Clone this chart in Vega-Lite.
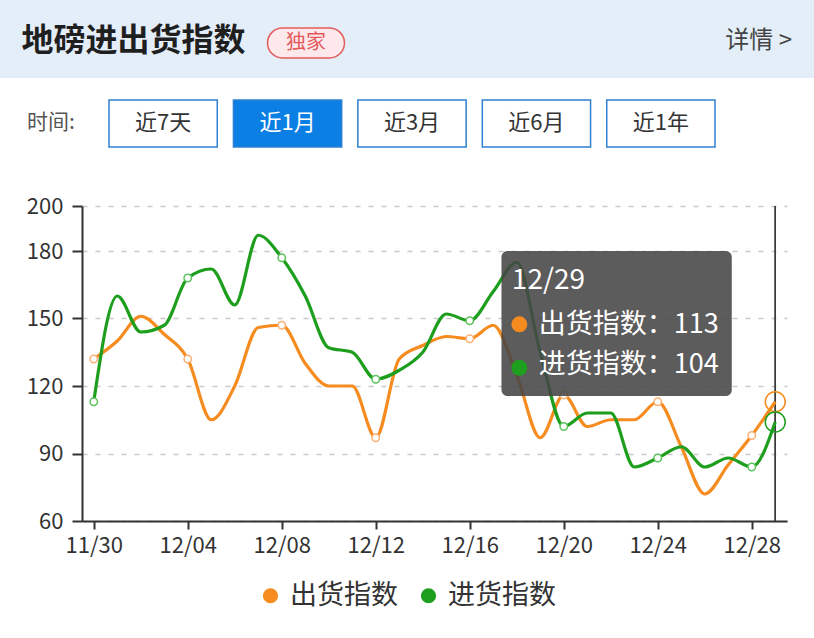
{
  "$schema": "https://vega.github.io/schema/vega-lite/v6.json",
  "padding": {"left": 0, "top": 0, "right": 0, "bottom": 30},
  "spacing": 0,
  "background": "#ffffff",
  "config": {
    "font": "Noto Sans CJK SC",
    "view": {"stroke": null},
    "concat": {"spacing": 0}
  },
  "datasets": {
    "index": [
      {"date": "2023-11-30T00:00", "series": "出货指数", "value": 132},
      {"date": "2023-12-01T00:00", "series": "出货指数", "value": 140},
      {"date": "2023-12-02T00:00", "series": "出货指数", "value": 151},
      {"date": "2023-12-03T00:00", "series": "出货指数", "value": 143},
      {"date": "2023-12-04T00:00", "series": "出货指数", "value": 132},
      {"date": "2023-12-05T00:00", "series": "出货指数", "value": 105},
      {"date": "2023-12-06T00:00", "series": "出货指数", "value": 120},
      {"date": "2023-12-07T00:00", "series": "出货指数", "value": 146},
      {"date": "2023-12-08T00:00", "series": "出货指数", "value": 147},
      {"date": "2023-12-09T00:00", "series": "出货指数", "value": 130},
      {"date": "2023-12-10T00:00", "series": "出货指数", "value": 120},
      {"date": "2023-12-11T00:00", "series": "出货指数", "value": 120},
      {"date": "2023-12-12T00:00", "series": "出货指数", "value": 97},
      {"date": "2023-12-13T00:00", "series": "出货指数", "value": 132},
      {"date": "2023-12-14T00:00", "series": "出货指数", "value": 138},
      {"date": "2023-12-15T00:00", "series": "出货指数", "value": 142},
      {"date": "2023-12-16T00:00", "series": "出货指数", "value": 141},
      {"date": "2023-12-17T00:00", "series": "出货指数", "value": 147},
      {"date": "2023-12-18T00:00", "series": "出货指数", "value": 125},
      {"date": "2023-12-19T00:00", "series": "出货指数", "value": 97},
      {"date": "2023-12-20T00:00", "series": "出货指数", "value": 116},
      {"date": "2023-12-21T00:00", "series": "出货指数", "value": 102},
      {"date": "2023-12-22T00:00", "series": "出货指数", "value": 105},
      {"date": "2023-12-23T00:00", "series": "出货指数", "value": 105},
      {"date": "2023-12-24T00:00", "series": "出货指数", "value": 113},
      {"date": "2023-12-25T00:00", "series": "出货指数", "value": 93},
      {"date": "2023-12-26T00:00", "series": "出货指数", "value": 72},
      {"date": "2023-12-27T00:00", "series": "出货指数", "value": 85},
      {"date": "2023-12-28T00:00", "series": "出货指数", "value": 98},
      {"date": "2023-12-29T00:00", "series": "出货指数", "value": 113},
      {"date": "2023-11-30T00:00", "series": "进货指数", "value": 113},
      {"date": "2023-12-01T00:00", "series": "进货指数", "value": 160},
      {"date": "2023-12-02T00:00", "series": "进货指数", "value": 144},
      {"date": "2023-12-03T00:00", "series": "进货指数", "value": 147},
      {"date": "2023-12-04T00:00", "series": "进货指数", "value": 168},
      {"date": "2023-12-05T00:00", "series": "进货指数", "value": 172},
      {"date": "2023-12-06T00:00", "series": "进货指数", "value": 156},
      {"date": "2023-12-07T00:00", "series": "进货指数", "value": 187},
      {"date": "2023-12-08T00:00", "series": "进货指数", "value": 177},
      {"date": "2023-12-09T00:00", "series": "进货指数", "value": 160},
      {"date": "2023-12-10T00:00", "series": "进货指数", "value": 137},
      {"date": "2023-12-11T00:00", "series": "进货指数", "value": 135},
      {"date": "2023-12-12T00:00", "series": "进货指数", "value": 123},
      {"date": "2023-12-13T00:00", "series": "进货指数", "value": 127},
      {"date": "2023-12-14T00:00", "series": "进货指数", "value": 135},
      {"date": "2023-12-15T00:00", "series": "进货指数", "value": 152},
      {"date": "2023-12-16T00:00", "series": "进货指数", "value": 149},
      {"date": "2023-12-17T00:00", "series": "进货指数", "value": 162},
      {"date": "2023-12-18T00:00", "series": "进货指数", "value": 175},
      {"date": "2023-12-19T00:00", "series": "进货指数", "value": 135},
      {"date": "2023-12-20T00:00", "series": "进货指数", "value": 102},
      {"date": "2023-12-21T00:00", "series": "进货指数", "value": 108},
      {"date": "2023-12-22T00:00", "series": "进货指数", "value": 108},
      {"date": "2023-12-23T00:00", "series": "进货指数", "value": 84},
      {"date": "2023-12-24T00:00", "series": "进货指数", "value": 88},
      {"date": "2023-12-25T00:00", "series": "进货指数", "value": 93},
      {"date": "2023-12-26T00:00", "series": "进货指数", "value": 84},
      {"date": "2023-12-27T00:00", "series": "进货指数", "value": 88},
      {"date": "2023-12-28T00:00", "series": "进货指数", "value": 84},
      {"date": "2023-12-29T00:00", "series": "进货指数", "value": 104}
    ]
  },
  "vconcat": [
    {
      "spacing": 0,
      "hconcat": [
        {
          "width": 265, "height": 78,
          "view": {"fill": "#e4eef9", "stroke": null},
          "data": {"values": [{"t": "地磅进出货指数"}]},
          "mark": {"type": "text", "fontSize": 32, "fontWeight": "bold", "color": "#1f1f1f", "dx": 1},
          "encoding": {
            "text": {"field": "t"},
            "y": {"datum": "h", "type": "nominal", "scale": {"type": "band", "paddingInner": 0, "paddingOuter": 0.8, "align": 0.55}, "axis": null}
          }
        },
        {
          "width": 82, "height": 78,
          "view": {"fill": "#e4eef9", "stroke": null},
          "data": {"values": [{"t": "独家"}]},
          "encoding": {
            "x": {"datum": "b", "type": "nominal", "scale": {"type": "band", "paddingInner": 0, "paddingOuter": 0.033}, "axis": null},
            "y": {"datum": "h", "type": "nominal", "scale": {"type": "band", "paddingInner": 0, "paddingOuter": 0.8, "align": 0.583}, "axis": null}
          },
          "layer": [
            {"mark": {"type": "bar", "cornerRadius": 15, "fill": "#fde9eb", "stroke": "#e35b5b", "strokeWidth": 1.5}},
            {"mark": {"type": "text", "fontSize": 20, "color": "#e4585c"}, "encoding": {"text": {"field": "t"}}}
          ]
        },
        {
          "width": 467, "height": 78,
          "view": {"fill": "#e4eef9", "stroke": null},
          "data": {"values": [{"t": "详情 >"}]},
          "mark": {"type": "text", "fontSize": 24, "color": "#444444", "align": "right", "dx": -22},
          "encoding": {
            "text": {"field": "t"},
            "x": {"value": "width"},
            "y": {"datum": "h", "type": "nominal", "scale": {"type": "band", "paddingInner": 0, "paddingOuter": 0.8, "align": 0.55}, "axis": null}
          }
        }
      ]
    },
    {
      "spacing": 0,
      "hconcat": [
        {
          "width": 108, "height": 117,
          "view": {"fill": "#ffffff", "stroke": null},
          "data": {"values": [{"t": "时间:"}]},
          "mark": {"type": "text", "fontSize": 21, "color": "#555555", "dx": -3},
          "encoding": {
            "text": {"field": "t"},
            "y": {"datum": "b", "type": "nominal", "scale": {"type": "band", "paddingInner": 0, "paddingOuter": 0.745, "align": 0.314}, "axis": null}
          }
        },
        {
          "width": 606, "height": 117,
          "data": {"values": [{"label": "近7天"}, {"label": "近1月"}, {"label": "近3月"}, {"label": "近6月"}, {"label": "近1年"}]},
          "encoding": {
            "x": {"field": "label", "type": "nominal", "sort": null, "scale": {"paddingInner": 0.13, "paddingOuter": 0}, "axis": null},
            "y": {"datum": "b", "type": "nominal", "scale": {"type": "band", "paddingInner": 0, "paddingOuter": 0.745, "align": 0.314}, "axis": null}
          },
          "layer": [
            {
              "mark": {"type": "bar", "stroke": "#2f7fd3", "strokeWidth": 1.5},
              "encoding": {"fill": {"condition": {"test": "datum.label === '近1月'", "value": "#0b7fe4"}, "value": "#ffffff"}}
            },
            {
              "mark": {"type": "text", "fontSize": 22},
              "encoding": {
                "text": {"field": "label"},
                "color": {"condition": {"test": "datum.label === '近1月'", "value": "#ffffff"}, "value": "#333333"}
              }
            }
          ]
        }
      ]
    },
    {
      "spacing": 0,
      "hconcat": [
        {
          "width": 26, "height": 10,
          "view": {"fill": "#ffffff", "stroke": null},
          "data": {"values": [{"k": 0}]},
          "mark": {"type": "text"},
          "encoding": {"text": {"value": ""}}
        },
        {
          "width": 705, "height": 315,
          "data": {"name": "index", "format": {"parse": {"date": "date"}}},
          "layer": [
            {
              "transform": [{"filter": "timeFormat(datum.date, '%m/%d') == '12/29'"}],
              "mark": {"type": "rule", "color": "#3a3a3a", "strokeWidth": 1.5},
              "encoding": {
                "x": {"field": "date", "type": "temporal"}
              }
            },
            {
              "mark": {"type": "line", "interpolate": "monotone", "strokeWidth": 3.2},
              "encoding": {
                "x": {
                  "field": "date", "type": "temporal",
                  "scale": {"domain": [{"year": 2023, "month": 11, "date": 29, "hours": 12}, {"year": 2023, "month": 12, "date": 29, "hours": 12}]},
                  "axis": {
                    "title": null, "format": "%m/%d", "grid": false,
                    "values": [
                      {"year": 2023, "month": 11, "date": 30}, {"year": 2023, "month": 12, "date": 4},
                      {"year": 2023, "month": 12, "date": 8}, {"year": 2023, "month": 12, "date": 12},
                      {"year": 2023, "month": 12, "date": 16}, {"year": 2023, "month": 12, "date": 20},
                      {"year": 2023, "month": 12, "date": 24}, {"year": 2023, "month": 12, "date": 28}
                    ],
                    "domainColor": "#333333", "domainWidth": 2, "tickColor": "#333333", "tickWidth": 2, "tickSize": 8,
                    "labelFontSize": 22, "labelColor": "#333333", "labelPadding": 6, "labelFlush": false, "labelOverlap": false
                  }
                },
                "y": {
                  "field": "value", "type": "quantitative",
                  "scale": {"domain": [60, 200], "nice": false, "zero": false},
                  "axis": {
                    "title": null, "values": [60, 90, 120, 150, 180, 200],
                    "domainColor": "#333333", "domainWidth": 2, "tickColor": "#333333", "tickWidth": 2, "tickSize": 10,
                    "labelFontSize": 22, "labelColor": "#333333", "labelPadding": 9,
                    "grid": true, "gridColor": "#c9c9c9", "gridDash": [5, 8], "gridWidth": 1.5
                  }
                },
                "color": {
                  "field": "series", "type": "nominal",
                  "scale": {"domain": ["出货指数", "进货指数"], "range": ["#f68b1f", "#1d9e1d"]},
                  "legend": {
                    "title": null, "orient": "none", "legendX": 257, "legendY": 582, "direction": "horizontal",
                    "symbolType": "circle", "symbolSize": 230,
                    "labelFontSize": 27, "labelColor": "#333333", "columnPadding": 17, "labelOffset": 6,
                    "encode": {"symbols": {"update": {"fill": {"scale": "color", "field": "value"}, "strokeWidth": {"value": 0}}}}
                  }
                }
              }
            },
            {
              "transform": [{"filter": "indexof(['11/30','12/04','12/08','12/12','12/16','12/20','12/24','12/28'], timeFormat(datum.date, '%m/%d')) >= 0"}],
              "mark": {"type": "point", "shape": "circle", "filled": true, "fill": "#ffffff", "size": 55, "strokeWidth": 1.5, "opacity": 1},
              "encoding": {
                "x": {"field": "date", "type": "temporal"},
                "y": {"field": "value", "type": "quantitative"},
                "stroke": {"field": "series", "type": "nominal", "scale": {"domain": ["出货指数", "进货指数"], "range": ["#f9b074", "#5cc25c"]}, "legend": null}
              }
            },
            {
              "transform": [{"filter": "timeFormat(datum.date, '%m/%d') == '12/29'"}],
              "mark": {"type": "point", "shape": "circle", "filled": false, "size": 400, "strokeWidth": 1.5, "opacity": 1},
              "encoding": {
                "x": {"field": "date", "type": "temporal"},
                "y": {"field": "value", "type": "quantitative"},
                "color": {"field": "series", "type": "nominal"}
              }
            },
            {
              "data": {"values": [{"k": 0}]},
              "mark": {"type": "rect", "fill": "#464646", "opacity": 0.88, "cornerRadius": 6},
              "encoding": {
                "x": {"datum": {"year": 2023, "month": 12, "date": 17, "hours": 8, "minutes": 24}, "type": "temporal"},
                "x2": {"datum": {"year": 2023, "month": 12, "date": 27, "hours": 3, "minutes": 36}},
                "y": {"datum": 180, "type": "quantitative"},
                "y2": {"datum": 115.6}
              }
            },
            {
              "data": {"values": [{"k": 0}]},
              "mark": {"type": "text", "align": "left", "baseline": "middle", "fontSize": 28, "color": "#ffffff"},
              "encoding": {
                "x": {"datum": {"year": 2023, "month": 12, "date": 17, "hours": 19}, "type": "temporal"},
                "y": {"datum": 166.7, "type": "quantitative"},
                "text": {"value": "12/29"}
              }
            },
            {
              "data": {"values": [{"s": "出货指数", "v": 147.4}, {"s": "进货指数", "v": 128.1}]},
              "mark": {"type": "point", "shape": "circle", "filled": true, "size": 255, "opacity": 1},
              "encoding": {
                "x": {"datum": {"year": 2023, "month": 12, "date": 18, "hours": 2, "minutes": 40}, "type": "temporal"},
                "y": {"field": "v", "type": "quantitative"},
                "color": {"field": "s", "type": "nominal"}
              }
            },
            {
              "data": {"values": [{"v": 147.1, "label": "出货指数：113"}, {"v": 129.3, "label": "进货指数：104"}]},
              "mark": {"type": "text", "align": "left", "baseline": "middle", "fontSize": 27, "color": "#ffffff"},
              "encoding": {
                "x": {"datum": {"year": 2023, "month": 12, "date": 18, "hours": 22, "minutes": 30}, "type": "temporal"},
                "y": {"field": "v", "type": "quantitative"},
                "text": {"field": "label"}
              }
            }
          ]
        }
      ]
    }
  ]
}
